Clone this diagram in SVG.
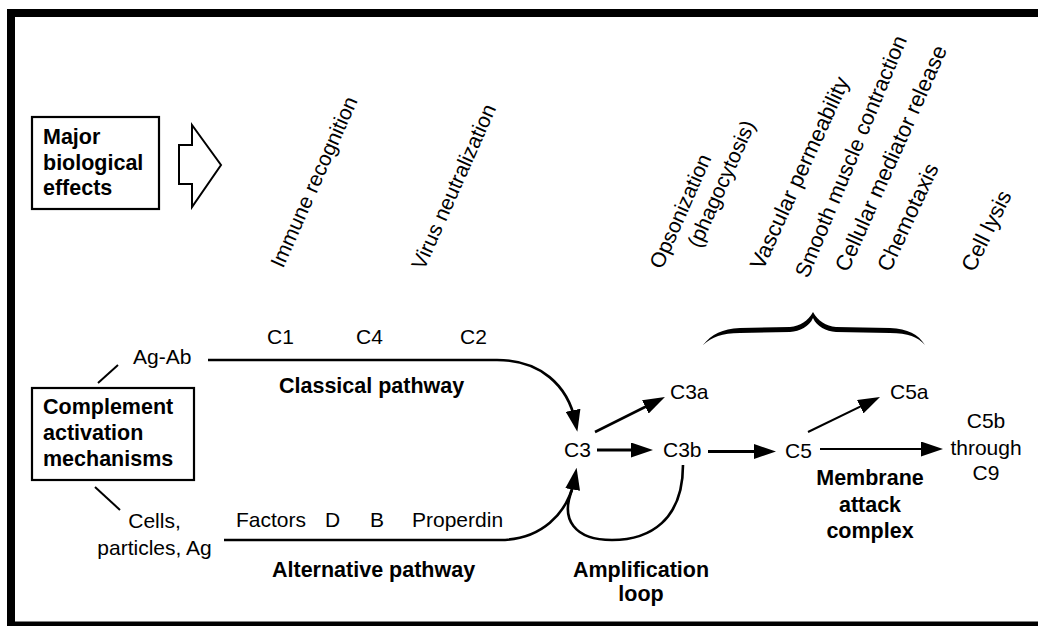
<svg xmlns="http://www.w3.org/2000/svg" width="1038" height="626" viewBox="0 0 1038 626">
<style>
text{font-family:"Liberation Sans",Arial,sans-serif;fill:#000}
.t{font-size:21px}
.b{font-size:21.5px;font-weight:bold}
.r{font-size:21px}
.r2{font-size:22px}
.c{text-anchor:middle}
.box{fill:#fff;stroke:#000;stroke-width:2.2}
.ln{fill:none;stroke:#000;stroke-width:2.6}
.lt{fill:none;stroke:#000;stroke-width:2}
.lk{fill:none;stroke:#000;stroke-width:3}
</style>
<defs>
<marker id="ah" viewBox="0 0 22 15" markerWidth="22" markerHeight="15" markerUnits="userSpaceOnUse" refX="12" refY="7.5" orient="auto">
<path d="M0,0 L22,7.5 L0,15 z" fill="#000"/>
</marker>
</defs>
<rect width="1038" height="626" fill="#fff"/>
<g id="frame" fill="#000">
<rect x="7" y="9" width="1031" height="8"/>
<rect x="7" y="9" width="8" height="617"/>
<rect x="7" y="621.5" width="1031" height="5"/>
</g>
<g id="effects-box">
<rect class="box" x="32" y="117" width="127" height="92"/>
<text class="b" x="43" y="144">Major</text>
<text class="b" x="43" y="170">biological</text>
<text class="b" x="43" y="195">effects</text>
</g>
<g id="effects-arrow">
<polygon points="179,145 192,145 192,125 221,165 192,207 192,184 179,184" fill="#fff" stroke="#000" stroke-width="2"/>
</g>
<g id="effects-labels">
<text class="r" transform="translate(283,269) rotate(-66)">Immune recognition</text>
<text class="r" transform="translate(424,271) rotate(-66)">Virus neutralization</text>
<text class="r" transform="translate(662,270) rotate(-66)">Opsonization</text>
<text class="r" transform="translate(700,249) rotate(-66)">(phagocytosis)</text>
<text class="r2" transform="translate(763,271) rotate(-65.5)">Vascular permeability</text>
<text style="font-size:21.5px" transform="translate(808,279) rotate(-67.5)">Smooth muscle contraction</text>
<text class="r2" transform="translate(848,273) rotate(-66)">Cellular mediator release</text>
<text class="r2" transform="translate(890,273) rotate(-65)">Chemotaxis</text>
<text class="r2" transform="translate(974,273) rotate(-64)">Cell lysis</text>
</g>
<g id="brace">
<path d="M703,345 C712,334 722,329 740,328 L790,327 C800,326 808,321 813,312 C818,321 826,326 836,327 L890,328 C908,329 918,334 925,345 C918,337 908,333 890,333 L836,332 C826,331 817,327 813,318 C809,327 800,331 790,332 L740,333 C722,333 712,337 703,345 Z" fill="#000"/>
</g>
<g id="mechanisms-box">
<rect class="box" x="32" y="388" width="162" height="92"/>
<text class="b" x="43" y="414">Complement</text>
<text class="b" x="43" y="440">activation</text>
<text class="b" x="43" y="466">mechanisms</text>
</g>
<g id="agab"><text class="t" x="133" y="364">Ag-Ab</text></g>
<g id="cells">
<text class="t c" x="154.5" y="528">Cells,</text>
<text class="t c" x="154.5" y="555">particles, Ag</text>
</g>
<g id="classical-labels">
<text class="t" x="267" y="344">C1</text>
<text class="t" x="356" y="344">C4</text>
<text class="t" x="460" y="344">C2</text>
<text class="b" x="279" y="393">Classical pathway</text>
</g>
<g id="alternative-labels">
<text class="t" x="236" y="527">Factors</text>
<text class="t" x="325" y="527">D</text>
<text class="t" x="370" y="527">B</text>
<text class="t" x="412" y="527">Properdin</text>
<text class="b" x="272" y="577">Alternative pathway</text>
</g>
<g id="c3"><text class="t" x="564" y="457">C3</text></g>
<g id="c3a"><text class="t" x="670" y="399">C3a</text></g>
<g id="c3b"><text class="t" x="663" y="457">C3b</text></g>
<g id="c5"><text class="t" x="785" y="458">C5</text></g>
<g id="c5a"><text class="t" x="890" y="399">C5a</text></g>
<g id="c5b-c9">
<text class="t c" x="986" y="428">C5b</text>
<text class="t c" x="986" y="455">through</text>
<text class="t c" x="986" y="480">C9</text>
</g>
<g id="mac">
<text class="b c" x="870" y="485">Membrane</text>
<text class="b c" x="870" y="512">attack</text>
<text class="b c" x="870" y="538">complex</text>
</g>
<g id="amplification">
<text class="b c" x="641" y="577">Amplification</text>
<text class="b c" x="641" y="601">loop</text>
</g>
<g id="connectors">
<path class="lt" d="M98,383 L118,365"/>
<path class="lt" d="M95,487 L120,510"/>
<path class="ln" d="M208,360 H497 C540,360 568,385 575.4,422" marker-end="url(#ah)"/>
<path class="ln" d="M224,540 H500 C540,540 568,515 574.8,477.7" marker-end="url(#ah)"/>
<path class="ln" d="M683,465 C683,520 650,540 612,540 C575,540 560,520 572,490"/>
<path class="lk" d="M597,450 L643,450" marker-end="url(#ah)"/>
<path class="ln" d="M595,432 L656,401.5" marker-end="url(#ah)"/>
<path class="lk" d="M708,451.5 L766,451.5" marker-end="url(#ah)"/>
<path class="lt" d="M808,432 L871,401.4" marker-end="url(#ah)"/>
<path class="lt" d="M820,449 L933,449" marker-end="url(#ah)"/>
</g>
</svg>
